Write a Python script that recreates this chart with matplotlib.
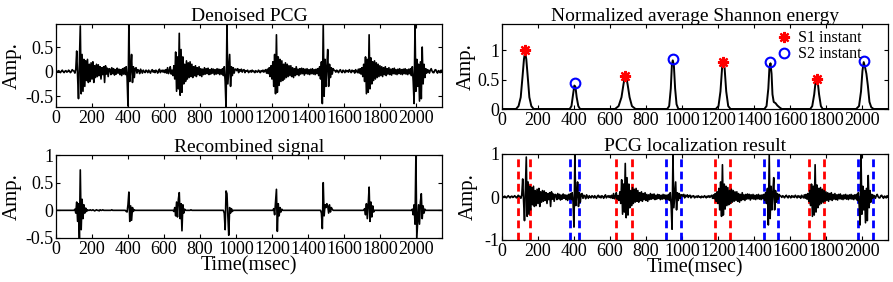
import numpy as np
import matplotlib
matplotlib.use("Agg")
import matplotlib.pyplot as plt

# Senales, una muestra cada 5 ms (0 ... 2145 ms)
dt = 5

# PCG sin ruido (paneles 1 y 4)
pcg = [
    # 0-95
    0.00, 0.01, -0.01, 0.02, 0.00, -0.02, 0.01, 0.03, 0.00, -0.02, 0.01, 0.02, -0.01, 0.00, 0.03, 0.01, -0.02, 0.00, 0.04, 0.02,
    # 100-195
    0.01, -0.03, 0.05, 0.42, -0.10, -0.55, 0.20, 0.93, -0.45, 0.35, -0.40, 0.25, -0.30, 0.22, -0.18, 0.25, -0.22, 0.15, -0.20, 0.18,
    # 200-295
    -0.15, 0.20, -0.22, 0.12, -0.12, 0.15, -0.10, 0.14, -0.08, 0.10, -0.15, 0.08, -0.06, 0.10, -0.22, 0.12, -0.05, 0.07, -0.10, 0.06,
    # 300-395
    0.05, -0.06, 0.08, -0.04, 0.06, -0.07, 0.04, -0.05, 0.07, -0.03, 0.05, -0.06, 0.04, -0.08, 0.06, -0.05, 0.08, -0.06, 0.10, -0.12,
    # 400-495
    -0.70, 0.97, -0.20, 0.05, 0.35, -0.22, 0.10, -0.12, 0.06, 0.08, -0.03, 0.04, 0.02, -0.04, 0.05, 0.01, -0.03, 0.03, 0.00, -0.02,
    # 500-595
    0.03, 0.01, -0.02, 0.03, 0.00, -0.03, 0.02, 0.04, -0.01, 0.02, -0.02, 0.03, 0.01, -0.03, 0.02, 0.05, -0.02, 0.01, 0.03, -0.01,
    # 600-695
    0.03, -0.02, 0.04, -0.03, 0.08, -0.04, 0.02, 0.10, -0.05, 0.03, -0.08, 0.12, -0.15, 0.40, -0.40, 0.30, -0.35, 0.78, -0.48, 0.45,
    # 700-795
    -0.42, 0.30, -0.25, 0.15, -0.20, 0.22, -0.15, 0.18, -0.12, 0.20, -0.10, 0.15, -0.12, 0.10, -0.08, 0.12, -0.10, 0.08, -0.06, 0.10,
    # 800-895
    -0.08, 0.06, -0.10, 0.05, -0.06, 0.08, -0.05, 0.06, -0.04, 0.07, -0.06, 0.04, -0.05, 0.06, -0.03, 0.05, -0.06, 0.04, -0.05, 0.06,
    # 900-995
    -0.04, 0.05, -0.06, 0.04, -0.05, 0.06, -0.08, 0.10, -0.20, -0.75, 0.97, -0.25, 0.05, 0.35, -0.30, 0.10, -0.08, 0.08, -0.03, 0.05,
    # 1000-1095
    0.05, 0.02, 0.06, -0.02, 0.04, 0.01, 0.05, -0.01, 0.03, 0.04, -0.02, 0.02, 0.01, 0.03, -0.02, 0.00, 0.02, -0.01, 0.03, 0.00,
    # 1100-1195
    0.01, -0.02, 0.02, 0.00, -0.01, 0.03, 0.01, -0.02, 0.02, 0.00, 0.03, -0.01, 0.02, 0.04, -0.03, 0.05, -0.04, 0.08, -0.10, 0.12,
    # 1200-1295
    -0.15, 0.20, -0.30, 0.35, -0.45, 0.75, -0.42, 0.30, -0.28, 0.25, -0.20, 0.22, -0.18, 0.15, -0.15, 0.18, -0.12, 0.15, -0.10, 0.12,
    # 1300-1395
    -0.08, 0.12, -0.10, 0.08, -0.12, 0.06, -0.08, 0.10, -0.06, 0.05, -0.08, 0.06, -0.05, 0.07, -0.04, 0.06, -0.07, 0.05, -0.04, 0.06,
    # 1400-1495
    -0.05, 0.04, -0.06, 0.05, -0.04, 0.06, -0.05, 0.04, -0.06, 0.05, -0.04, 0.06, -0.08, 0.10, -0.15, 0.20, -0.65, 0.97, -0.50, 0.25,
    # 1500-1595
    -0.30, 0.10, 0.45, -0.30, 0.15, -0.12, 0.08, -0.05, 0.06, 0.03, 0.02, -0.01, 0.03, 0.01, -0.02, 0.02, 0.04, 0.00, -0.02, 0.03,
    # 1600-1695
    0.01, -0.02, 0.03, 0.00, 0.02, -0.01, 0.04, 0.01, -0.02, 0.03, 0.00, 0.02, -0.03, 0.04, 0.01, -0.02, 0.05, -0.03, 0.06, -0.05,
    # 1700-1795
    0.08, -0.10, 0.15, -0.20, 0.30, -0.45, 0.25, -0.42, 0.75, -0.35, 0.28, -0.25, 0.20, -0.18, 0.22, -0.15, 0.18, -0.12, 0.15, -0.10,
    # 1800-1895
    0.12, -0.08, 0.10, -0.10, 0.08, -0.06, 0.10, -0.08, 0.06, -0.05, 0.08, -0.06, 0.05, -0.07, 0.06, -0.04, 0.07, -0.05, 0.04, -0.06,
    # 1900-1995
    0.05, -0.04, 0.06, -0.05, 0.04, -0.06, 0.05, -0.04, 0.06, -0.05, 0.04, -0.06, 0.05, -0.04, 0.06, -0.08, 0.10, -0.20, -0.65, 0.97,
    # 2000-2095
    -0.40, 0.25, -0.30, 0.15, -0.60, 0.20, -0.55, 0.50, -0.25, 0.15, -0.12, 0.06, -0.03, 0.04, 0.02, -0.03, 0.03, 0.06, 0.01, -0.02,
    # 2100-2145
    -0.02, 0.03, 0.04, 0.00, -0.03, 0.02, 0.01, -0.02, 0.03, 0.01,
]

# Senal recombinada (panel 3)
recomb = [
    # 0-95
    0, 0, 0, 0, 0, 0, 0, 0, 0, 0, 0, 0, 0, 0, 0, 0, 0, 0, 0, 0,
    # 100-195
    0.00, 0.02, -0.05, 0.15, -0.20, 0.12, -0.50, 0.73, -0.35, 0.20, -0.15, 0.10, -0.05, 0.04, -0.02, 0.01, 0.00, 0.00, 0.01, 0.00,
    # 200-295
    0.00, 0.01, 0.00, -0.01, 0.00, 0.01, 0.00, 0.00, -0.01, 0.01, 0.00, 0.00, 0.01, 0.00, 0, 0, 0, 0, 0, 0,
    # 300-395
    0, 0, 0.01, 0, 0, 0, 0, 0, 0, 0, 0, 0, 0, 0, 0, 0, 0, 0, -0.02, -0.03,
    # 400-495
    0.10, 0.33, -0.20, 0.08, -0.18, 0.05, -0.02, 0.01, 0, 0, 0, 0, 0, 0, 0, 0, 0, 0, 0, 0,
    # 500-595
    0, 0, 0, 0, 0, 0, 0, 0, 0, 0, 0, 0, 0, 0, 0, 0, 0, 0, 0, 0,
    # 600-695
    0, 0, 0, 0, 0, 0, 0, 0, 0, 0, 0, -0.02, 0.05, -0.10, 0.15, -0.12, 0.20, 0.32, -0.15, 0.12,
    # 700-795
    -0.37, 0.10, -0.05, 0.02, 0, 0, 0, 0, 0, 0, 0.01, 0, 0, 0, 0, 0, 0, 0, 0, 0,
    # 800-895
    0, 0, 0, 0, 0, 0, 0, 0, 0, 0, 0, 0, 0, 0, 0, 0, 0, 0, 0, 0,
    # 900-995
    0, 0, 0, 0, 0, 0, 0, -0.05, -0.35, 0.35, 0.30, -0.10, -0.45, 0.05, -0.05, 0.03, -0.02, 0, 0, 0,
    # 1000-1095
    0, 0, 0, 0, 0, 0, 0, 0, 0, 0, 0, 0, 0, 0, 0, 0, 0, 0, 0, 0,
    # 1100-1195
    0, 0, 0, 0, 0, 0, 0, 0, 0, 0, 0, 0, 0, 0, 0, 0, 0, 0, 0, 0,
    # 1200-1295
    0, 0, 0.03, -0.08, 0.15, 0.38, -0.38, 0.12, -0.10, 0.05, -0.03, 0.02, 0, 0, 0, 0, 0, 0, 0, 0,
    # 1300-1395
    0, 0, 0, 0, 0, 0, 0, 0, 0, 0, 0, 0, 0, 0, 0, 0, 0, 0, 0, 0,
    # 1400-1495
    0, 0, 0, 0, 0, 0, 0, 0, 0, 0, 0, 0, 0, 0, 0, -0.05, -0.33, 0.50, -0.10, 0.10,
    # 1500-1595
    0.05, 0.12, 0.08, -0.05, 0.10, -0.03, 0.05, 0.02, 0, 0, 0, 0, 0, 0, 0, 0, 0, 0, 0, 0,
    # 1600-1695
    0, 0, 0, 0, 0, 0, 0, 0, 0, 0, 0, 0, 0, 0, 0, 0, 0, 0, 0, 0,
    # 1700-1795
    0, 0, 0, 0.03, -0.08, 0.12, -0.15, 0.10, 0.42, -0.20, 0.15, -0.12, 0.08, -0.03, 0, 0, 0, 0, 0, 0,
    # 1800-1895
    0, 0, 0, 0, 0, 0, 0, 0, 0, 0, 0, 0, 0, 0, 0, 0, 0, 0, 0, 0,
    # 1900-1995
    0, 0, 0, 0, 0, 0, 0, 0, 0, 0, 0, 0, 0, 0, 0, 0, 0.02, -0.08, 0.10, -0.25,
    # 2000-2095
    1.00, -0.50, -0.20, 0.10, -0.25, 0.15, 0.30, -0.15, 0.08, -0.05, 0.02, 0, 0, 0, 0, 0, 0, 0, 0, 0,
    # 2100-2145
    0, 0, 0, 0, 0, 0, 0, 0, 0, 0,
]

# Energia de Shannon normalizada (panel 2): puntos (tiempo ms, valor)
se_t = [0, 78, 92, 104, 114, 122, 128, 135, 143, 152, 163, 176,
        376, 386, 395, 402, 408, 415, 424, 434,
        628, 648, 664, 675, 683, 690, 698, 709, 722, 742,
        918, 929, 938, 944, 949, 955, 962, 970, 980,
        1188, 1203, 1214, 1223, 1230, 1237, 1246, 1257, 1270,
        1458, 1470, 1480, 1486, 1492, 1498, 1503, 1510, 1520, 1530, 1545, 1555,
        1713, 1724, 1735, 1742, 1748, 1755, 1762, 1772, 1782,
        1968, 1984, 1995, 2003, 2010, 2017, 2025, 2033, 2042, 2052, 2065, 2145]
se_v = [0, 0, 0.05, 0.20, 0.55, 0.85, 0.97, 0.85, 0.55, 0.20, 0.05, 0,
        0, 0.05, 0.25, 0.40, 0.38, 0.20, 0.05, 0,
        0, 0.05, 0.20, 0.42, 0.55, 0.55, 0.42, 0.20, 0.05, 0,
        0, 0.05, 0.35, 0.75, 0.83, 0.75, 0.35, 0.08, 0,
        0, 0.05, 0.30, 0.70, 0.80, 0.70, 0.30, 0.05, 0,
        0, 0.05, 0.35, 0.70, 0.78, 0.60, 0.25, 0.12, 0.10, 0.06, 0.02, 0,
        0, 0.05, 0.25, 0.45, 0.50, 0.45, 0.25, 0.05, 0,
        0, 0.05, 0.30, 0.65, 0.80, 0.72, 0.60, 0.40, 0.12, 0.03, 0, 0]

# Instantes S1 / S2
s1_t = [128, 685, 1230, 1748]
s1_v = [1.00, 0.57, 0.81, 0.52]
s2_t = [403, 948, 1492, 2012]
s2_v = [0.44, 0.85, 0.81, 0.82]

# Limites de localizacion (inicio, fin) en ms
s1_lim = [(87, 158), (632, 722), (1185, 1267), (1708, 1789)]
s2_lim = [(376, 430), (911, 993), (1454, 1535), (1976, 2060)]

plt.rcParams['font.family'] = ['Liberation Serif', 'DejaVu Serif']

W, H = 893, 282
fig = plt.figure(figsize=(W / 100, H / 100), dpi=100)


def caja(l, t, r, b):
    # posicion en pixeles -> fraccion de figura
    return fig.add_axes([l / W, 1 - b / H, (r - l) / W, (b - t) / H])


def estilo(ax, ylim, yticks, titulo, ylab_x):
    ax.set_xlim(0, 2145)
    ax.set_ylim(*ylim)
    ax.set_xticks(np.arange(0, 2001, 200))
    ax.set_yticks(yticks)
    ax.set_yticklabels([('%g' % v) for v in yticks])
    ax.tick_params(direction='in', top=True, right=True, length=3, width=0.8,
                   labelsize=13, pad=2)
    for s in ax.spines.values():
        s.set_linewidth(0.9)
    ax.set_title(titulo, fontsize=14, pad=2)
    ax.set_ylabel("Amp.", fontsize=15)
    ax.yaxis.set_label_coords(ylab_x, 0.5)


t = np.arange(len(pcg)) * dt
t_rec = np.arange(len(recomb)) * dt

# Panel 1: PCG sin ruido
ax1 = caja(56, 24, 442, 107)
ax1.plot(t, pcg, color='k', lw=1.2)
estilo(ax1, (-0.72, 0.97), [-0.5, 0, 0.5], "Denoised PCG", -0.089)

# Panel 2: energia de Shannon
ax2 = caja(502, 24, 888, 109)
ax2.plot(se_t, se_v, color='k', lw=1.4)
ax2.plot(s1_t, s1_v, ls='none', marker=(8, 2, 0), ms=8, mec='red', mew=1.6,
         color='red', label='S1 instant')
ax2.plot(s2_t, s2_v, ls='none', marker='o', ms=7, mfc='none', mec='blue',
         mew=1.5, label='S2 instant')
estilo(ax2, (0, 1.45), [0, 0.5, 1], "Normalized average Shannon energy", -0.068)
ax2.legend(loc='upper left', bbox_to_anchor=(0.685, 1.02), frameon=False,
           fontsize=11.5, handletextpad=0.3, borderaxespad=0.1,
           labelspacing=0.0, handlelength=1.2)

# Panel 3: senal recombinada
ax3 = caja(56, 155, 442, 238)
ax3.plot(t_rec, recomb, color='k', lw=1.2)
estilo(ax3, (-0.5, 1), [-0.5, 0, 0.5, 1], "Recombined signal", -0.088)
ax3.set_xlabel("Time(msec)", fontsize=14.5, labelpad=-1)

# Panel 4: resultado de localizacion
ax4 = caja(502, 154, 888, 240)
for a, b in s1_lim:
    for x in (a, b):
        ax4.axvline(x, color='red', ls=(0, (2.8, 1.6)), lw=2)
for a, b in s2_lim:
    for x in (a, b):
        ax4.axvline(x, color='blue', ls=(0, (2.8, 1.6)), lw=2)
ax4.plot(t, pcg, color='k', lw=1.2)
estilo(ax4, (-1, 1), [-1, 0, 1], "PCG localization result", -0.062)
ax4.set_xlabel("Time(msec)", fontsize=14.5, labelpad=-1)

fig.savefig("out.png", dpi=100)
